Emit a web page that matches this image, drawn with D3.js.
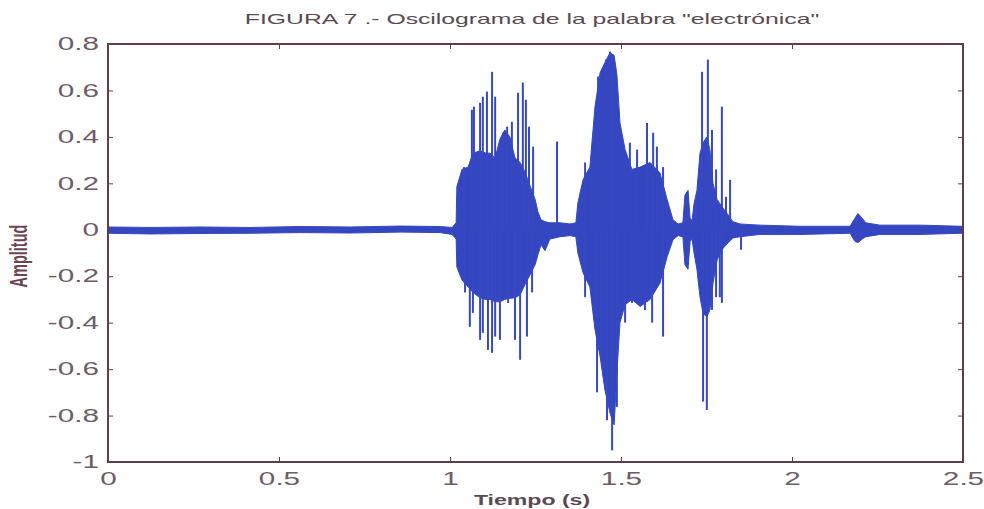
<!DOCTYPE html>
<html>
<head>
<meta charset="utf-8">
<script src="https://cdn.jsdelivr.net/npm/d3@7"></script>
<style>
  body { margin: 0; background: #fff; }
  text { font-family: "Liberation Sans", Arial, sans-serif; }
</style>
</head>
<body>
<div id="chart"></div>
<script>
// envelope of the waveform (time in s, upper / lower amplitude)
var envTime = [0.000, 0.123, 0.269, 0.415, 0.561, 0.708, 0.854, 0.971, 1.006, 1.018,
    1.020, 1.035, 1.053, 1.067, 1.088, 1.105, 1.117, 1.132, 1.146, 1.160, 1.175, 1.190, 1.205, 1.219, 1.234,
    1.249, 1.257, 1.266, 1.278, 1.292, 1.322, 1.351, 1.368,
    1.374, 1.389, 1.409, 1.424, 1.439, 1.453, 1.468, 1.480, 1.488, 1.497, 1.512, 1.532,
    1.556, 1.585, 1.614, 1.635, 1.652, 1.667, 1.681, 1.687, 1.696, 1.702, 1.708,
    1.713, 1.722, 1.731, 1.740, 1.751, 1.760, 1.769, 1.781, 1.795, 1.813, 1.827,
    1.848, 1.906, 2.023, 2.170, 2.184, 2.193, 2.205, 2.216, 2.257, 2.374, 2.497];
var envHigh = [0.012, 0.010, 0.012, 0.010, 0.014, 0.012, 0.016, 0.014, 0.010, 0.030,
    0.185, 0.260, 0.270, 0.330, 0.340, 0.330, 0.330, 0.310, 0.390, 0.430, 0.400, 0.310, 0.290, 0.250, 0.190,
    0.130, 0.078, 0.043, 0.035, 0.030, 0.030, 0.025, 0.030,
    0.116, 0.215, 0.270, 0.530, 0.677, 0.720, 0.763, 0.750, 0.668, 0.460, 0.345, 0.260,
    0.270, 0.290, 0.245, 0.130, 0.043, 0.025, 0.030, 0.150, 0.170, 0.050, 0.040,
    0.108, 0.170, 0.330, 0.375, 0.400, 0.345, 0.200, 0.130, 0.100, 0.065, 0.035,
    0.025, 0.020, 0.015, 0.015, 0.050, 0.070, 0.050, 0.030, 0.020, 0.020, 0.015];
var envLow = [-0.015, -0.018, -0.016, -0.015, -0.012, -0.014, -0.010, -0.012, -0.020, -0.040,
    -0.160, -0.216, -0.246, -0.270, -0.293, -0.300, -0.300, -0.310, -0.310, -0.300, -0.295, -0.293, -0.280, -0.237, -0.194,
    -0.150, -0.108, -0.065, -0.090, -0.040, -0.030, -0.025, -0.030,
    -0.100, -0.185, -0.246, -0.430, -0.547, -0.690, -0.790, -0.840, -0.616, -0.400, -0.323, -0.300,
    -0.330, -0.300, -0.230, -0.116, -0.043, -0.025, -0.030, -0.150, -0.170, -0.050, -0.040,
    -0.095, -0.170, -0.290, -0.360, -0.375, -0.345, -0.230, -0.130, -0.086, -0.056, -0.035,
    -0.030, -0.020, -0.020, -0.015, -0.050, -0.055, -0.040, -0.030, -0.020, -0.020, -0.015];

// single peaks that stick out of the envelope
var spikeTime = [1.041, 1.064, 1.070, 1.088, 1.096, 1.108, 1.123, 1.132, 1.146, 1.155, 1.167,
    1.181, 1.199, 1.213, 1.222, 1.231, 1.243, 1.313,
    1.044, 1.058, 1.067, 1.088, 1.096, 1.111, 1.123, 1.132, 1.146, 1.170, 1.190, 1.205, 1.225, 1.240,
    1.395, 1.415, 1.433, 1.456, 1.468, 1.477, 1.526, 1.547, 1.576, 1.594, 1.605, 1.623,
    1.395, 1.430, 1.444, 1.459, 1.474, 1.488, 1.512, 1.532, 1.570, 1.591, 1.623,
    1.737, 1.754, 1.766, 1.778, 1.795, 1.807, 1.819,
    1.740, 1.751, 1.766, 1.778, 1.789, 1.795, 1.851];
var spikeAmp = [0.27, 0.517, 0.53, 0.547, 0.573, 0.595, 0.68, 0.573, 0.375, 0.418, 0.444,
    0.465, 0.59, 0.634, 0.56, 0.444, 0.358, 0.38,
    -0.27, -0.418, -0.358, -0.474, -0.444, -0.517, -0.53, -0.46, -0.474, -0.315, -0.474, -0.56, -0.46, -0.27,
    0.29, 0.315, 0.66, 0.733, 0.767, 0.754, 0.375, 0.345, 0.46, 0.418, 0.358, 0.27,
    -0.29, -0.70, -0.56, -0.82, -0.95, -0.763, -0.40, -0.315, -0.345, -0.40, -0.46,
    0.68, 0.733, 0.43, 0.26, 0.53, 0.142, 0.215,
    -0.74, -0.776, -0.345, -0.29, -0.29, -0.315, -0.086];

var xTicks = [0, 0.5, 1, 1.5, 2, 2.5];
var yTicks = [-1, -0.8, -0.6, -0.4, -0.2, 0, 0.2, 0.4, 0.6, 0.8];

var outerWidth = 984, outerHeight = 509;
var margins = { top: 44, right: 21, bottom: 47, left: 108 };
var width = outerWidth - margins.left - margins.right,
    height = outerHeight - margins.top - margins.bottom;
var stretch = 1.65;   // the scanned figure is wide, glyphs are stretched
var axisColor = "#5c3f4b", textColor = "#6d5c66", waveColor = "#3447c0";

var svg = d3.select("#chart").append("svg")
    .attr("width", outerWidth)
    .attr("height", outerHeight);

var g = svg.append("g")
    .attr("transform", "translate(" + margins.left + "," + margins.top + ")");

var x = d3.scaleLinear().domain([0, 2.5]).range([0, width]);
var y = d3.scaleLinear().domain([-1, 0.8]).range([height, 0]);

// waveform
var env = envTime.map(function(t, i) { return { t: t, hi: envHigh[i], lo: envLow[i] }; });
var area = d3.area()
    .x(function(d) { return x(d.t); })
    .y0(function(d) { return y(d.lo); })
    .y1(function(d) { return y(d.hi); });

g.append("path")
    .datum(env)
    .attr("d", area)
    .attr("fill", waveColor)
    .attr("stroke", waveColor)
    .attr("stroke-width", 1);

g.selectAll("line.spike")
    .data(spikeTime.map(function(t, i) { return { t: t, v: spikeAmp[i] }; }))
    .enter().append("line")
    .attr("class", "spike")
    .attr("x1", function(d) { return x(d.t); })
    .attr("x2", function(d) { return x(d.t); })
    .attr("y1", y(0))
    .attr("y2", function(d) { return y(d.v); })
    .attr("stroke", "#3648c2")
    .attr("stroke-width", 2);

// axes, matlab style: ticks inside on all four sides
function styleAxis(sel) {
    sel.select(".domain").remove();
    sel.selectAll(".tick line").attr("stroke", axisColor);
    sel.selectAll(".tick text")
        .attr("fill", textColor)
        .attr("font-size", 18)
        .attr("font-family", "Liberation Sans, Arial, sans-serif")
        .each(function() {
            var t = d3.select(this);
            t.attr("x", (+t.attr("x") || 0) / stretch)
             .attr("transform", "scale(" + stretch + ",1)");
        });
}

var fmt = function(d) { return String(d); };

g.append("g")
    .attr("transform", "translate(0," + height + ")")
    .call(d3.axisBottom(x).tickValues(xTicks).tickFormat(fmt).tickSizeInner(-5).tickSizeOuter(0).tickPadding(10))
    .call(styleAxis);

g.append("g")
    .call(d3.axisLeft(y).tickValues(yTicks).tickFormat(fmt).tickSizeInner(-5).tickSizeOuter(0).tickPadding(9))
    .call(styleAxis);

g.append("g")
    .call(d3.axisTop(x).tickValues(xTicks).tickFormat("").tickSizeInner(-5).tickSizeOuter(0))
    .call(styleAxis);

g.append("g")
    .attr("transform", "translate(" + width + ",0)")
    .call(d3.axisRight(y).tickValues(yTicks).tickFormat("").tickSizeInner(-5).tickSizeOuter(0))
    .call(styleAxis);

g.append("rect")
    .attr("width", width)
    .attr("height", height)
    .attr("fill", "none")
    .attr("stroke", axisColor)
    .attr("stroke-width", 2);

// title and axis labels
svg.append("text")
    .attr("transform", "translate(532,24) scale(" + stretch + ",1)")
    .attr("text-anchor", "middle")
    .attr("font-size", 15)
    .attr("fill", "#5a4a52")
    .text("FIGURA 7 .- Oscilograma de la palabra \"electrónica\"");

svg.append("text")
    .attr("transform", "translate(532,505) scale(" + stretch + ",1)")
    .attr("text-anchor", "middle")
    .attr("font-size", 14)
    .attr("font-weight", "bold")
    .attr("fill", "#5a4a52")
    .text("Tiempo (s)");

svg.append("text")
    .attr("transform", "translate(27,256) rotate(-90) scale(1," + stretch + ")")
    .attr("text-anchor", "middle")
    .attr("font-size", 14.5)
    .attr("font-weight", "bold")
    .attr("fill", "#6a4653")
    .text("Amplitud");
</script>
</body>
</html>
